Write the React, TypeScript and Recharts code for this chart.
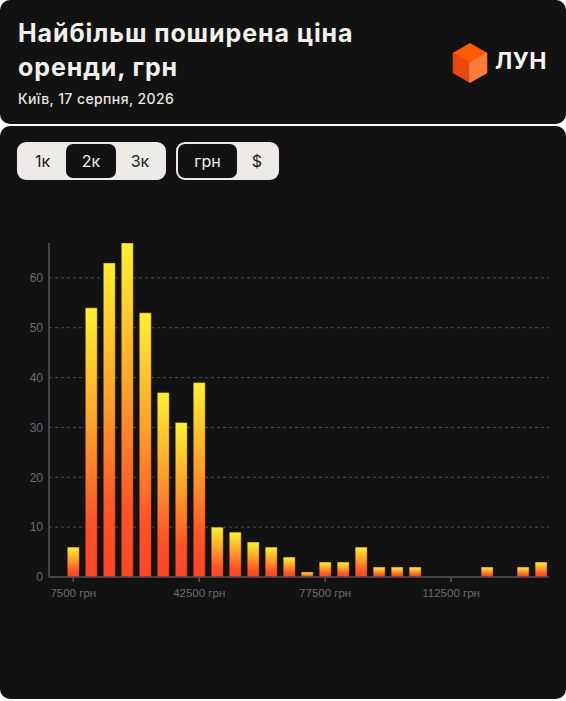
import { BarChart, Bar, XAxis, YAxis, CartesianGrid } from 'recharts';

// bin centres (UAH), 5000 wide bins
const prices = [
  7500, 12500, 17500, 22500, 27500, 32500, 37500, 42500, 47500, 52500,
  57500, 62500, 67500, 72500, 77500, 82500, 87500, 92500, 97500, 102500,
  107500, 112500, 117500, 122500, 127500, 132500, 137500,
];
const counts = [
  6, 54, 63, 67, 53, 37, 31, 39, 10, 9,
  7, 6, 4, 1, 3, 3, 6, 2, 2, 2,
  0, 0, 0, 2, 0, 2, 3,
];
const xTicks = [7500, 42500, 77500, 112500];
const yTicks = [0, 10, 20, 30, 40, 50, 60];
const gridValues = [10, 20, 30, 40, 50, 60];
const roomTabs = ['1к', '2к', '3к'];
const currencyTabs = ['грн', '$'];

const data = prices.map((price, i) => ({ price, count: counts[i] }));

const BG = '#131212';
const AXIS = '#55555c';
const TICK = '#6a6a72';

function Logo() {
  return (
    <svg width={36} height={40} viewBox="0 0 36 40" style={{ position: 'absolute', left: 452, top: 43 }}>
      <polygon points="18,1 34.5,10.5 18,20 1.5,10.5" fill="#ff5c00" strokeLinejoin="round" stroke="#ff5c00" strokeWidth={1.5} />
      <polygon points="1.5,10.5 18,20 18,39 1.5,29.5" fill="#e9470f" strokeLinejoin="round" stroke="#e9470f" strokeWidth={1.5} />
      <polygon points="18,20 34.5,10.5 34.5,29.5 18,39" fill="#ff7b3a" strokeLinejoin="round" stroke="#ff7b3a" strokeWidth={1.5} />
    </svg>
  );
}

function Tabs({ items, active, left, width, itemWidths }: { items: string[]; active: number; left: number; width: number; itemWidths: number[] }) {
  return (
    <div
      style={{
        position: 'absolute',
        left,
        top: 142,
        width,
        height: 38,
        boxSizing: 'border-box',
        padding: 2,
        background: '#ecebe7',
        borderRadius: 9,
        display: 'flex',
      }}
    >
      {items.map((t, i) => (
        <div
          key={t}
          style={{
            width: itemWidths[i],
            height: 34,
            borderRadius: 7,
            background: i === active ? BG : 'transparent',
            color: i === active ? '#f2f1ec' : '#1a1a1a',
            display: 'flex',
            alignItems: 'center',
            justifyContent: 'center',
            fontSize: 16,
            fontWeight: 400,
          }}
        >
          {t}
        </div>
      ))}
    </div>
  );
}

export default function App() {
  return (
    <div
      style={{
        position: 'fixed',
        left: 0,
        top: 0,
        width: 566,
        height: 701,
        background: '#ffffff',
        fontFamily: 'Inter, "Noto Sans", sans-serif',
        overflow: 'hidden',
      }}
    >
      <svg width={0} height={0} style={{ position: 'absolute' }}>
        <defs>
          <linearGradient id="barGrad" x1="0" y1="0" x2="0" y2="1">
            <stop offset="0%" stopColor="#fff12e" />
            <stop offset="45%" stopColor="#ff9d2a" />
            <stop offset="80%" stopColor="#ff5226" />
            <stop offset="100%" stopColor="#ff4426" />
          </linearGradient>
        </defs>
      </svg>

      {/* header card */}
      <div style={{ position: 'absolute', left: 0, top: 0, width: 566, height: 124, background: BG, borderRadius: 10 }}>
        <div
          style={{
            position: 'absolute',
            left: 18,
            top: 16,
            width: 420,
            color: '#f1f0ea',
            fontSize: 25,
            fontWeight: 700,
            lineHeight: '34px',
            letterSpacing: 0.9,
          }}
        >
          Найбільш поширена ціна
          <br />
          оренди, грн
        </div>
        <div style={{ position: 'absolute', left: 18, top: 90, color: '#e8e7e2', fontSize: 14, fontWeight: 500, letterSpacing: 0.4 }}>
          Київ, 17 серпня, 2026
        </div>
        <Logo />
        <div style={{ position: 'absolute', left: 495, top: 47, color: '#f4f4f0', fontSize: 23, fontWeight: 700, letterSpacing: 0.5 }}>
          ЛУН
        </div>
      </div>

      {/* chart card */}
      <div style={{ position: 'absolute', left: 0, top: 126, width: 566, height: 573, background: BG, borderRadius: 10 }} />

      <Tabs items={roomTabs} active={1} left={17} width={149} itemWidths={[47, 50, 48]} />
      <Tabs items={currencyTabs} active={0} left={176} width={103} itemWidths={[59, 40]} />

      <div style={{ position: 'absolute', left: 0, top: 230 }}>
        <BarChart width={566} height={400} data={data} margin={{ top: 13, right: 17, bottom: 23, left: 0 }}>
          <CartesianGrid horizontal vertical={false} horizontalValues={gridValues} stroke="#4a4a50" strokeDasharray="3 3" />
          <XAxis
            dataKey="price"
            type="number"
            domain={[750, 139700]}
            allowDataOverflow
            ticks={xTicks}
            interval={0}
            tickFormatter={(v) => `${v} грн`}
            height={30}
            tickSize={5}
            tickMargin={7}
            axisLine={{ stroke: AXIS, strokeWidth: 1.5 }}
            tickLine={{ stroke: AXIS, strokeWidth: 1.5 }}
            tick={{ fill: TICK, fontSize: 11.5, fontFamily: '"Liberation Sans", Arial, sans-serif' }}
          />
          <YAxis
            type="number"
            domain={[0, 67]}
            ticks={yTicks}
            interval={0}
            width={49}
            tickSize={0}
            tickMargin={6}
            tickLine={false}
            axisLine={{ stroke: AXIS, strokeWidth: 1.5 }}
            tick={{ fill: TICK, fontSize: 12, fontFamily: '"Liberation Sans", Arial, sans-serif' }}
          />
          <Bar
            dataKey="count"
            barSize={12}
            fill="url(#barGrad)"
            stroke="rgba(40,25,0,0.45)"
            strokeWidth={1}
            isAnimationActive={false}
          />
        </BarChart>
      </div>
    </div>
  );
}
